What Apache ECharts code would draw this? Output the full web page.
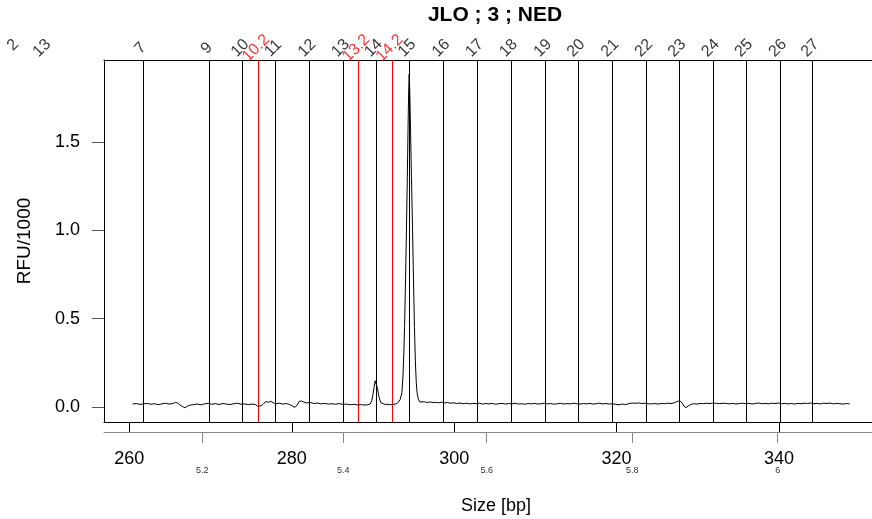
<!DOCTYPE html>
<html>
<head>
<meta charset="utf-8">
<script src="https://cdn.jsdelivr.net/npm/echarts@6/dist/echarts.min.js"></script>
<style>
html,body{margin:0;padding:0;background:#fff;}
#chart{width:872px;height:519px;}
</style>
</head>
<body>
<div id="chart"></div>
<script>
// ---- data ----
const titleText = 'JLO ; 3 ; NED';
const xTitle = 'Size [bp]';
const yTitle = 'RFU/1000';
const sizeTicks = [260, 280, 300, 320, 340];
const rfuTicks = [0, 0.5, 1.0, 1.5];
const timeTicks = [268.99, 286.35, 304.01, 321.94, 339.84];
const timeLabels = ['5.2', '5.4', '5.6', '5.8', '6'];
const binSizes = [261.65, 269.81, 273.91, 277.98, 282.16, 286.28, 290.34, 294.48, 298.67, 302.78, 306.96, 311.19, 315.29, 319.48, 323.63, 327.73, 331.84, 335.94, 340.13, 344.10];
const binLabels = ['7', '9', '10', '11', '12', '13', '14', '15', '16', '17', '18', '19', '20', '21', '22', '23', '24', '25', '26', '27'];
const virtualSizes = [275.88, 288.20, 292.31];
const virtualLabels = ['10.2', '13.2', '14.2'];
const outsideSizes = [245.56, 249.51];
const outsideLabels = ['12', '13'];
const sizes = [
260.40,260.85,261.30,261.75,262.20,262.65,263.10,263.55,264.00,264.45,264.90,265.35,265.70,265.95,266.25,266.55,266.85,267.15,267.50,267.90,
268.35,268.80,269.25,269.70,270.15,270.60,271.05,271.50,271.95,272.40,272.85,273.30,273.75,274.20,274.65,275.10,275.50,275.80,276.00,276.25,
276.55,276.85,277.15,277.40,277.70,278.00,278.45,278.90,279.35,279.75,280.10,280.40,280.65,280.90,281.20,281.50,281.85,282.25,282.70,283.15,
283.60,284.05,284.50,284.95,285.40,285.85,286.30,286.75,287.20,287.65,288.10,288.55,289.00,289.35,289.65,289.85,290.00,290.15,290.27,290.34,
290.44,290.56,290.69,290.84,291.02,291.24,291.54,291.84,292.14,292.44,292.74,292.99,293.19,293.34,293.44,293.56,293.69,293.79,293.89,294.01,
294.13,294.23,294.32,294.39,294.46,294.53,294.62,294.74,294.87,294.99,295.11,295.22,295.33,295.43,295.61,295.78,296.00,296.35,296.70,297.05,
297.40,297.75,298.10,298.45,298.80,299.15,299.50,299.90,300.30,300.70,301.10,301.50,301.90,302.30,302.70,303.10,303.50,303.90,304.30,304.70,
305.10,305.50,305.90,306.30,306.70,307.10,307.50,307.90,308.30,308.70,309.10,309.50,309.90,310.30,310.70,311.10,311.50,311.90,312.30,312.70,
313.10,313.50,313.90,314.30,314.70,315.10,315.50,315.90,316.30,316.70,317.10,317.50,317.90,318.30,318.70,319.10,319.50,319.90,320.30,320.70,
321.10,321.50,321.90,322.30,322.70,323.10,323.50,323.90,324.30,324.70,325.10,325.50,325.90,326.30,326.70,327.10,327.45,327.75,328.05,328.30,
328.55,328.85,329.15,329.50,329.90,330.30,330.70,331.10,331.50,331.90,332.30,332.70,333.10,333.50,333.90,334.30,334.70,335.10,335.50,335.90,
336.30,336.70,337.10,337.50,337.90,338.30,338.70,339.10,339.50,339.90,340.30,340.70,341.10,341.50,341.90,342.30,342.70,343.10,343.50,343.90,
344.30,344.70,345.10,345.50,345.90,346.30,346.70,347.10,347.50,347.90,348.30,348.70
];
const rfu = [
0.016,0.019,0.014,0.017,0.020,0.015,0.018,0.013,0.017,0.021,0.016,0.019,0.026,0.022,0.010,0.002,-0.005,0.004,0.010,0.013,
0.016,0.012,0.017,0.020,0.015,0.018,0.014,0.019,0.016,0.013,0.018,0.021,0.015,0.017,0.013,0.016,0.014,0.004,-0.004,0.006,
0.020,0.030,0.026,0.032,0.024,0.018,0.021,0.016,0.019,0.013,0.005,-0.003,0.010,0.030,0.034,0.027,0.022,0.026,0.019,0.022,
0.017,0.020,0.016,0.018,0.015,0.019,0.014,0.016,0.012,0.015,0.011,0.013,0.010,0.012,0.016,0.035,0.070,0.115,0.148,0.157,
0.140,0.105,0.068,0.040,0.022,0.015,0.013,0.015,0.012,0.014,0.016,0.020,0.026,0.040,0.030,0.080,0.170,0.290,0.450,0.720,
1.020,1.300,1.580,1.780,1.885,1.790,1.580,1.300,1.020,0.720,0.450,0.260,0.140,0.080,0.040,0.028,0.026,0.029,0.025,0.028,
0.024,0.026,0.023,0.027,0.022,0.025,0.021,0.023,0.019,0.022,0.018,0.021,0.017,0.020,0.018,0.021,0.016,0.019,0.017,0.020,
0.015,0.018,0.020,0.016,0.019,0.017,0.021,0.016,0.018,0.015,0.019,0.017,0.020,0.016,0.018,0.021,0.017,0.019,0.015,0.018,
0.020,0.016,0.019,0.017,0.021,0.018,0.016,0.019,0.017,0.020,0.016,0.018,0.021,0.017,0.019,0.016,0.018,0.014,0.012,0.016,
0.013,0.018,0.022,0.020,0.023,0.019,0.021,0.018,0.017,0.019,0.016,0.020,0.018,0.021,0.019,0.023,0.030,0.036,0.024,0.004,
-0.004,0.006,0.014,0.018,0.016,0.020,0.018,0.021,0.019,0.022,0.020,0.018,0.021,0.019,0.017,0.020,0.016,0.019,0.021,0.018,
0.020,0.017,0.019,0.022,0.018,0.020,0.017,0.021,0.019,0.022,0.018,0.020,0.017,0.019,0.016,0.020,0.018,0.021,0.019,0.022,
0.018,0.020,0.017,0.021,0.019,0.022,0.017,0.020,0.018,0.016,0.019,0.017
];
const xMin = 256.88, xMax = 351.45;
const yMin = -0.0856, yMax = 1.966;
const labelLevel = 2.045;

// ---- chart ----
const FONT = 'Liberation Sans, Arial, Helvetica, sans-serif';
const chart = echarts.init(document.getElementById('chart'), null, {renderer: 'canvas'});
const trace = sizes.map((s, i) => [s, rfu[i]]);

const vlineSeries = (xs, color) => ({
  type: 'custom',
  silent: true,
  clip: false,
  data: xs.map(v => [v, 0]),
  encode: {x: 0, y: 1},
  renderItem: (params, api) => {
    const x = api.value(0);
    const p0 = api.coord([x, yMin]);
    const p1 = api.coord([x, yMax]);
    const px = Math.round(p0[0]) + 0.5;
    return {
      type: 'line',
      shape: {x1: px, y1: Math.round(p0[1]), x2: px, y2: Math.round(p1[1])},
      style: {stroke: color, lineWidth: 1}
    };
  },
  z: 2
});

const labelSeries = (xs, labels, color) => ({
  type: 'scatter',
  clip: false,
  silent: true,
  symbol: 'circle',
  symbolSize: 1,
  itemStyle: {color: 'rgba(0,0,0,0)'},
  data: xs.map((x, i) => ({value: [x, labelLevel], name: labels[i]})),
  label: {
    show: true,
    position: 'inside',
    formatter: p => (p.name === '12' && xs === outsideSizes) ? '{h|1}2' : p.name,
    rich: {h: {color: 'rgba(0,0,0,0)', fontSize: 16, fontFamily: FONT}},
    rotate: 45,
    offset: [-3, 0],
    color: color,
    fontSize: 16,
    fontFamily: FONT
  },
  z: 5
});

const plainAxis = (position, offset, color) => ({
  type: 'value', min: xMin, max: xMax, position: position, offset: offset,
  axisLine: {show: true, onZero: false, lineStyle: {color: color, width: 1}},
  axisTick: {show: false}, axisLabel: {show: false}, splitLine: {show: false}
});

chart.setOption({
  animation: false,
  backgroundColor: '#ffffff',
  title: [
    {text: titleText, left: 490, top: 0, textAlign: 'center',
     textStyle: {fontSize: 21, fontWeight: 'bold', color: '#000', fontFamily: FONT}},
    {text: xTitle, left: 491, top: 492, textAlign: 'center',
     textStyle: {fontSize: 18, fontWeight: 'normal', color: '#000', fontFamily: FONT}}
  ],
  grid: {left: 104, top: 60, right: 0, bottom: 97, show: false},
  xAxis: [
    {
      type: 'value', min: xMin, max: xMax, position: 'bottom', offset: 10,
      axisLine: {show: true, onZero: false, lineStyle: {color: '#888888', width: 1}},
      axisTick: {show: true, inside: true, length: 10, customValues: sizeTicks, lineStyle: {color: '#000', width: 1}},
      axisLabel: {show: true, customValues: sizeTicks, margin: 18, fontSize: 18, color: '#000', fontFamily: FONT},
      splitLine: {show: false}
    },
    {
      type: 'value', min: xMin, max: xMax, position: 'bottom', offset: 10,
      axisLine: {show: false, onZero: false},
      axisTick: {show: true, inside: false, length: 11, customValues: timeTicks, lineStyle: {color: '#888888', width: 1}},
      axisLabel: {show: true, customValues: timeTicks, margin: 34, fontSize: 9, color: '#333',
        fontFamily: FONT, formatter: v => timeLabels[timeTicks.indexOf(v)]},
      splitLine: {show: false}
    },
    plainAxis('top', 0, '#000'),
    plainAxis('bottom', 0, '#000')
  ],
  yAxis: {
    type: 'value', min: yMin, max: yMax,
    name: yTitle, nameLocation: 'middle', nameGap: 70,
    nameTextStyle: {fontSize: 19, color: '#000', fontFamily: FONT},
    axisLine: {show: true, onZero: false, lineStyle: {color: '#000', width: 1}},
    axisTick: {show: true, length: 12, customValues: rfuTicks, lineStyle: {color: '#555'}},
    axisLabel: {show: true, customValues: rfuTicks, margin: 24, fontSize: 18, color: '#000', fontFamily: FONT,
      formatter: v => v.toFixed(1)},
    splitLine: {show: false}
  },
  series: [
    vlineSeries(binSizes, '#000000'),
    vlineSeries(virtualSizes, '#ff0000'),
    {
      type: 'line',
      xAxisIndex: 0,
      data: trace,
      showSymbol: false,
      symbol: 'none',
      lineStyle: {color: '#000', width: 1},
      z: 3
    },
    labelSeries(binSizes, binLabels, '#000'),
    labelSeries(virtualSizes, virtualLabels, '#ff0000'),
    labelSeries(outsideSizes, outsideLabels, '#000')
  ]
});
</script>
</body>
</html>
